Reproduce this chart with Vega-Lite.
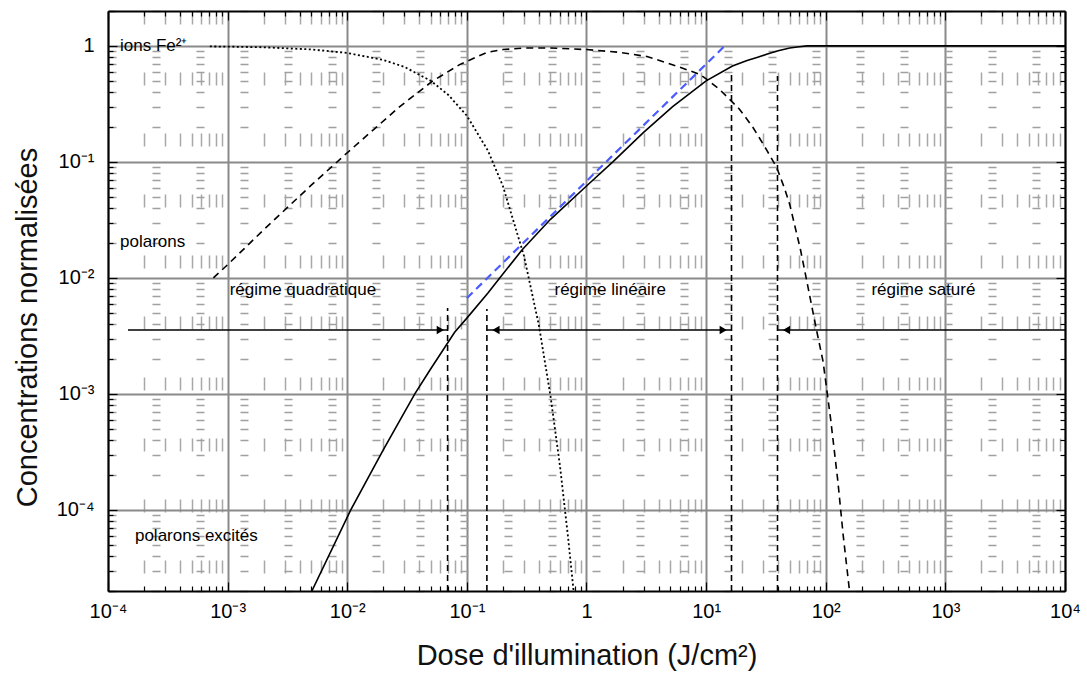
{
  "$schema": "https://vega.github.io/schema/vega-lite/v6.json",
  "width": 957,
  "height": 580,
  "autosize": {"type": "none"},
  "padding": {"left": 108, "top": 11, "right": 22, "bottom": 88},
  "background": "white",
  "config": {"view": {"stroke": null}, "font": "Liberation Sans, Arial, sans-serif"},
  "datasets": {
    "fe": [
      {"D": 0.00071, "c": 0.99}, {"D": 0.001, "c": 0.986}, {"D": 0.002, "c": 0.973}, {"D": 0.005, "c": 0.933},
      {"D": 0.01, "c": 0.87}, {"D": 0.02, "c": 0.757}, {"D": 0.03, "c": 0.66}, {"D": 0.05, "c": 0.5},
      {"D": 0.07, "c": 0.378}, {"D": 0.1, "c": 0.25}, {"D": 0.15, "c": 0.125}, {"D": 0.2, "c": 0.062},
      {"D": 0.3, "c": 0.0155}, {"D": 0.4, "c": 0.0039}, {"D": 0.5, "c": 0.00096}, {"D": 0.6, "c": 0.00024},
      {"D": 0.7, "c": 0.000059}, {"D": 0.78, "c": 0.00002}
    ],
    "pol": [
      {"D": 0.00076, "c": 0.01}, {"D": 0.001, "c": 0.013}, {"D": 0.002, "c": 0.026}, {"D": 0.005, "c": 0.063},
      {"D": 0.01, "c": 0.12}, {"D": 0.0275, "c": 0.3}, {"D": 0.052, "c": 0.5}, {"D": 0.087, "c": 0.69},
      {"D": 0.147, "c": 0.88}, {"D": 0.2, "c": 0.93}, {"D": 0.3, "c": 0.96}, {"D": 0.5, "c": 0.96},
      {"D": 1, "c": 0.93}, {"D": 1.9, "c": 0.88}, {"D": 3.2, "c": 0.81}, {"D": 5, "c": 0.7},
      {"D": 6.7, "c": 0.63}, {"D": 8.8, "c": 0.57}, {"D": 10, "c": 0.52}, {"D": 13, "c": 0.42},
      {"D": 19, "c": 0.285}, {"D": 24.5, "c": 0.2}, {"D": 28, "c": 0.16}, {"D": 32.3, "c": 0.125},
      {"D": 38.8, "c": 0.09}, {"D": 45, "c": 0.06}, {"D": 50, "c": 0.043}, {"D": 61.5, "c": 0.0175},
      {"D": 69, "c": 0.0097}, {"D": 83.5, "c": 0.0036}, {"D": 95, "c": 0.0019}, {"D": 110, "c": 0.0006},
      {"D": 126, "c": 0.00018}, {"D": 140, "c": 0.00006}, {"D": 158, "c": 0.00002}
    ],
    "sol": [
      {"D": 0.00506, "c": 0.00002}, {"D": 0.0107, "c": 0.0001}, {"D": 0.02, "c": 0.00033}, {"D": 0.0367, "c": 0.001},
      {"D": 0.049, "c": 0.0016}, {"D": 0.079, "c": 0.0034}, {"D": 0.1, "c": 0.0045}, {"D": 0.15, "c": 0.0074},
      {"D": 0.2, "c": 0.0108}, {"D": 0.29, "c": 0.0175}, {"D": 0.5, "c": 0.032}, {"D": 1, "c": 0.062},
      {"D": 1.66, "c": 0.1}, {"D": 3, "c": 0.18}, {"D": 5.25, "c": 0.3}, {"D": 10, "c": 0.5},
      {"D": 16.6, "c": 0.67}, {"D": 22, "c": 0.75}, {"D": 27, "c": 0.8}, {"D": 32.5, "c": 0.85},
      {"D": 40, "c": 0.91}, {"D": 50, "c": 0.96}, {"D": 60, "c": 0.985}, {"D": 70, "c": 1},
      {"D": 10000, "c": 1}
    ],
    "lin": [{"D": 0.1, "c": 0.0067}, {"D": 14.3, "c": 1}],
    "vl": [
      {"D": 0.069, "c": 0.00002, "c2": 0.0055}, {"D": 0.147, "c": 0.00002, "c2": 0.0054},
      {"D": 16.3, "c": 0.00002, "c2": 0.57}, {"D": 39.5, "c": 0.00002, "c2": 0.55}
    ],
    "ar": [
      {"D": 0.000147, "D2": 0.069, "c": 0.00356}, {"D": 0.147, "D2": 16.3, "c": 0.00356},
      {"D": 39.5, "D2": 10000, "c": 0.00356}
    ],
    "hr": [{"D": 0.06, "c": 0.00356}, {"D": 13.9, "c": 0.00356}],
    "hl": [{"D": 0.175, "c": 0.00356}, {"D": 47, "c": 0.00356}],
    "lab": [
      {"t": "ions Fe²⁺", "D": 0.000126, "c": 1},
      {"t": "polarons", "D": 0.000126, "c": 0.0205},
      {"t": "régime quadratique", "D": 0.00104, "c": 0.0078},
      {"t": "régime linéaire", "D": 0.54, "c": 0.0078},
      {"t": "régime saturé", "D": 241, "c": 0.0078},
      {"t": "polarons excités", "D": 0.000168, "c": 0.00006}
    ]
  },
  "resolve": {"axis": {"x": "independent", "y": "independent"}},
  "layer": [
    {
      "data": {"name": "fe"},
      "mark": {"type": "line", "color": "black", "strokeWidth": 1.8, "strokeDash": [2, 2.5], "clip": true},
      "encoding": {
        "x": {"field": "D", "type": "quantitative",
          "scale": {"type": "log", "domain": [0.0001, 10000], "nice": false},
          "axis": {"orient": "bottom", "title": null, "labels": false, "domain": false,
            "values": [0.0001,0.0002,0.0003,0.0004,0.0005,0.0006,0.0007,0.0008,0.0009,0.001,0.002,0.003,0.004,0.005,0.006,0.007,0.008,0.009,0.01,0.02,0.03,0.04,0.05,0.06,0.07,0.08,0.09,0.1,0.2,0.3,0.4,0.5,0.6,0.7,0.8,0.9,1,2,3,4,5,6,7,8,9,10,20,30,40,50,60,70,80,90,100,200,300,400,500,600,700,800,900,1000,2000,3000,4000,5000,6000,7000,8000,9000,10000],
            "grid": true,
            "gridColor": {"condition": {"test": "abs(log(datum.value)/LN10 - round(log(datum.value)/LN10)) < 0.001", "value": "#8a8a8a"}, "value": "#a8a8a8"},
            "gridWidth": {"condition": {"test": "abs(log(datum.value)/LN10 - round(log(datum.value)/LN10)) < 0.001", "value": 2}, "value": 1.5},
            "gridDash": {"condition": {"test": "abs(log(datum.value)/LN10 - round(log(datum.value)/LN10)) < 0.001", "value": []}, "value": [13, 48]},
            "ticks": true, "tickColor": "black", "tickWidth": 1.2,
            "tickSize": {"condition": {"test": "abs(log(datum.value)/LN10 - round(log(datum.value)/LN10)) < 0.001", "value": -9}, "value": -5}
          }
        },
        "y": {"field": "c", "type": "quantitative",
          "scale": {"type": "log", "domain": [0.00002, 2], "nice": false},
          "axis": {"orient": "left", "title": null, "labels": false, "domain": false,
            "values": [0.00002,0.00003,0.00004,0.00005,0.00006,0.00007,0.00008,0.00009,0.0001,0.0002,0.0003,0.0004,0.0005,0.0006,0.0007,0.0008,0.0009,0.001,0.002,0.003,0.004,0.005,0.006,0.007,0.008,0.009,0.01,0.02,0.03,0.04,0.05,0.06,0.07,0.08,0.09,0.1,0.2,0.3,0.4,0.5,0.6,0.7,0.8,0.9,1,2],
            "grid": true,
            "gridColor": {"condition": {"test": "abs(log(datum.value)/LN10 - round(log(datum.value)/LN10)) < 0.001", "value": "#8a8a8a"}, "value": "#a0a0a0"},
            "gridWidth": {"condition": {"test": "abs(log(datum.value)/LN10 - round(log(datum.value)/LN10)) < 0.001", "value": 2}, "value": 1.5},
            "gridDash": {"condition": {"test": "abs(log(datum.value)/LN10 - round(log(datum.value)/LN10)) < 0.001", "value": []}, "value": [8, 36]},
            "ticks": true, "tickColor": "black", "tickWidth": 1.2,
            "tickSize": {"condition": {"test": "abs(log(datum.value)/LN10 - round(log(datum.value)/LN10)) < 0.001", "value": -9}, "value": -5}
          }
        }
      }
    },
    {
      "data": {"name": "pol"},
      "mark": {"type": "line", "color": "black", "strokeWidth": 1.6, "strokeDash": [7, 5], "clip": true},
      "encoding": {
        "x": {"field": "D", "type": "quantitative",
          "scale": {"type": "log", "domain": [0.0001, 10000], "nice": false},
          "axis": {"orient": "bottom", "values": [0.0001,0.001,0.01,0.1,1,10,100,1000,10000],
            "grid": false, "ticks": false, "domain": true, "domainColor": "black", "domainWidth": 2,
            "labelExpr": "datum.value == 1 ? '1' : '10' + replace(replace(replace(replace(replace('' + round(log(datum.value)/LN10), '-', '⁻'), '1', '¹'), '2', '²'), '3', '³'), '4', '⁴')",
            "labelFontSize": 20, "labelColor": "black", "labelPadding": 10, "labelFlush": false, "labelOverlap": false,
            "title": "Dose d'illumination (J/cm²)", "titleFontSize": 29, "titleFontWeight": "normal", "titleColor": "#111", "titlePadding": 20
          }
        },
        "y": {"field": "c", "type": "quantitative",
          "scale": {"type": "log", "domain": [0.00002, 2], "nice": false},
          "axis": {"orient": "left", "values": [0.0001,0.001,0.01,0.1,1],
            "grid": false, "ticks": false, "domain": true, "domainColor": "black", "domainWidth": 2,
            "labelExpr": "datum.value == 1 ? '1' : '10' + replace(replace(replace(replace(replace('' + round(log(datum.value)/LN10), '-', '⁻'), '1', '¹'), '2', '²'), '3', '³'), '4', '⁴')",
            "labelFontSize": 20, "labelColor": "black", "labelPadding": 14, "labelFlush": false, "labelOverlap": false,
            "title": "Concentrations normalisées", "titleFontSize": 29, "titleFontWeight": "normal", "titleColor": "#111", "titlePadding": 14, "titleY": 316
          }
        }
      }
    },
    {
      "data": {"name": "sol"},
      "mark": {"type": "line", "color": "black", "strokeWidth": 1.6, "clip": true},
      "encoding": {
        "x": {"field": "D", "type": "quantitative",
          "scale": {"type": "log", "domain": [0.0001, 10000], "nice": false},
          "axis": {"orient": "top", "title": null, "labels": false, "grid": false, "domain": true, "domainColor": "black", "domainWidth": 2,
            "values": [0.0001,0.0002,0.0003,0.0004,0.0005,0.0006,0.0007,0.0008,0.0009,0.001,0.002,0.003,0.004,0.005,0.006,0.007,0.008,0.009,0.01,0.02,0.03,0.04,0.05,0.06,0.07,0.08,0.09,0.1,0.2,0.3,0.4,0.5,0.6,0.7,0.8,0.9,1,2,3,4,5,6,7,8,9,10,20,30,40,50,60,70,80,90,100,200,300,400,500,600,700,800,900,1000,2000,3000,4000,5000,6000,7000,8000,9000,10000],
            "ticks": true, "tickColor": "black", "tickWidth": 1.2,
            "tickSize": {"condition": {"test": "abs(log(datum.value)/LN10 - round(log(datum.value)/LN10)) < 0.001", "value": -9}, "value": -5}
          }
        },
        "y": {"field": "c", "type": "quantitative",
          "scale": {"type": "log", "domain": [0.00002, 2], "nice": false},
          "axis": {"orient": "right", "title": null, "labels": false, "grid": false, "domain": true, "domainColor": "black", "domainWidth": 2,
            "values": [0.00002,0.00003,0.00004,0.00005,0.00006,0.00007,0.00008,0.00009,0.0001,0.0002,0.0003,0.0004,0.0005,0.0006,0.0007,0.0008,0.0009,0.001,0.002,0.003,0.004,0.005,0.006,0.007,0.008,0.009,0.01,0.02,0.03,0.04,0.05,0.06,0.07,0.08,0.09,0.1,0.2,0.3,0.4,0.5,0.6,0.7,0.8,0.9,1,2],
            "ticks": true, "tickColor": "black", "tickWidth": 1.2,
            "tickSize": {"condition": {"test": "abs(log(datum.value)/LN10 - round(log(datum.value)/LN10)) < 0.001", "value": -9}, "value": -5}
          }
        }
      }
    },
    {
      "data": {"name": "lin"},
      "mark": {"type": "line", "color": "#4a5cff", "strokeWidth": 2.2, "strokeDash": [8, 5], "clip": true},
      "encoding": {
        "x": {"field": "D", "type": "quantitative", "scale": {"type": "log", "domain": [0.0001, 10000], "nice": false}, "axis": null},
        "y": {"field": "c", "type": "quantitative", "scale": {"type": "log", "domain": [0.00002, 2], "nice": false}, "axis": null}
      }
    },
    {
      "data": {"name": "vl"},
      "mark": {"type": "rule", "color": "black", "strokeWidth": 1.6, "strokeDash": [6, 4]},
      "encoding": {
        "x": {"field": "D", "type": "quantitative", "scale": {"type": "log", "domain": [0.0001, 10000], "nice": false}, "axis": null},
        "y": {"field": "c", "type": "quantitative", "scale": {"type": "log", "domain": [0.00002, 2], "nice": false}, "axis": null},
        "y2": {"field": "c2"}
      }
    },
    {
      "data": {"name": "ar"},
      "mark": {"type": "rule", "color": "black", "strokeWidth": 1.6},
      "encoding": {
        "x": {"field": "D", "type": "quantitative", "scale": {"type": "log", "domain": [0.0001, 10000], "nice": false}, "axis": null},
        "x2": {"field": "D2"},
        "y": {"field": "c", "type": "quantitative", "scale": {"type": "log", "domain": [0.00002, 2], "nice": false}, "axis": null}
      }
    },
    {
      "data": {"name": "hr"},
      "mark": {"type": "point", "shape": "triangle-right", "filled": true, "color": "black", "opacity": 1, "size": 70},
      "encoding": {
        "x": {"field": "D", "type": "quantitative", "scale": {"type": "log", "domain": [0.0001, 10000], "nice": false}, "axis": null},
        "y": {"field": "c", "type": "quantitative", "scale": {"type": "log", "domain": [0.00002, 2], "nice": false}, "axis": null}
      }
    },
    {
      "data": {"name": "hl"},
      "mark": {"type": "point", "shape": "triangle-left", "filled": true, "color": "black", "opacity": 1, "size": 70},
      "encoding": {
        "x": {"field": "D", "type": "quantitative", "scale": {"type": "log", "domain": [0.0001, 10000], "nice": false}, "axis": null},
        "y": {"field": "c", "type": "quantitative", "scale": {"type": "log", "domain": [0.00002, 2], "nice": false}, "axis": null}
      }
    },
    {
      "data": {"name": "lab"},
      "mark": {"type": "text", "align": "left", "baseline": "middle", "fontSize": 17, "color": "black"},
      "encoding": {
        "x": {"field": "D", "type": "quantitative", "scale": {"type": "log", "domain": [0.0001, 10000], "nice": false}, "axis": null},
        "y": {"field": "c", "type": "quantitative", "scale": {"type": "log", "domain": [0.00002, 2], "nice": false}, "axis": null},
        "text": {"field": "t"}
      }
    }
  ]
}
